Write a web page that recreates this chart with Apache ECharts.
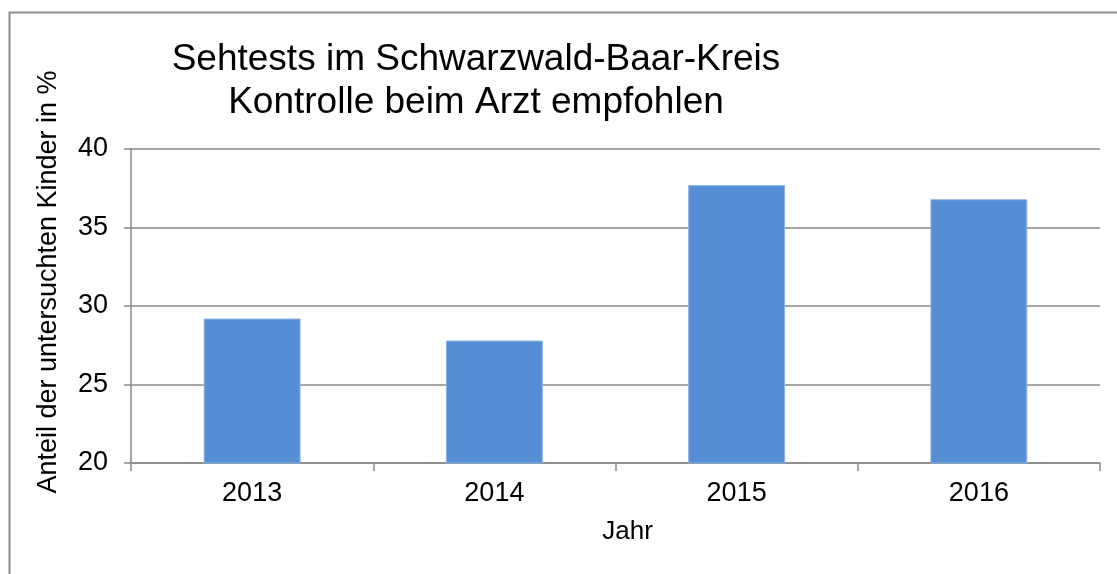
<!DOCTYPE html>
<html lang="de">
<head>
    <meta charset="UTF-8">
    <title>Sehtests im Schwarzwald-Baar-Kreis</title>
    <script src="https://cdn.jsdelivr.net/npm/echarts@6/dist/echarts.min.js"></script>
</head>
<style>
html,body{margin: 0;padding: 0;background: #fff}
#chartBox{width: 1117px;height: 574px}
</style>
<body>
    <div id="chartBox"></div>
</body>
<script>
// Daten
const jahre = ['2013', '2014', '2015', '2016'];
const anteilKontrolle = [29.2, 27.8, 37.7, 36.8];
const yTicks = [20, 25, 30, 35, 40];

const grau = '#898989';
const schrift = '"Liberation Sans", Arial, sans-serif';

let chartObj = echarts.init(document.getElementById('chartBox'));

const option = {
    animation: false,
    backgroundColor: '#fff',
    // Rahmen um das Diagramm
    graphic: [
        {
            type: 'rect',
            left: 7, top: 10,
            shape: {width: 1200, height: 700},
            style: {fill: 'none', stroke: '#8c8c8c', lineWidth: 2}
        }
    ],
    title: {
        text: 'Sehtests im Schwarzwald-Baar-Kreis\nKontrolle beim Arzt empfohlen',
        left: 471,
        top: 33,
        textAlign: 'center',
        textStyle: {
            fontFamily: schrift,
            fontSize: 37,
            fontWeight: 'normal',
            color: '#000',
            lineHeight: 43
        }
    },
    grid: {
        left: 131,
        right: 17,
        top: 149,
        bottom: 111
    },
    xAxis: {
        type: 'category',
        data: jahre,
        name: 'Jahr',
        nameLocation: 'middle',
        nameGap: 56,
        nameTextStyle: {fontFamily: schrift, fontSize: 26, color: '#000', padding: [0, 0, 0, 24]},
        axisLine: {lineStyle: {color: grau, width: 1.5}},
        axisTick: {show: true, length: 8, lineStyle: {color: grau, width: 1.5}},
        axisLabel: {fontFamily: schrift, fontSize: 27, color: '#000', margin: 17}
    },
    yAxis: {
        type: 'value',
        min: yTicks[0],
        max: yTicks[yTicks.length - 1],
        interval: 5,
        name: 'Anteil der untersuchten Kinder in %',
        nameLocation: 'middle',
        nameGap: 69,
        nameTextStyle: {fontFamily: schrift, fontSize: 27, color: '#000', padding: [0, 0, 0, 48]},
        axisLine: {show: true, lineStyle: {color: grau, width: 1.5}},
        axisTick: {show: true, length: 7, lineStyle: {color: grau, width: 1.5}},
        axisLabel: {fontFamily: schrift, fontSize: 27, color: '#000', margin: 23},
        splitLine: {lineStyle: {color: grau, width: 1.5}}
    },
    series: [
        {
            type: 'bar',
            data: anteilKontrolle,
            barWidth: '40%',
            itemStyle: {color: '#558ed5', borderColor: '#8db3e2', borderWidth: 1}
        }
    ]
};

chartObj.setOption(option);
</script>
</html>
